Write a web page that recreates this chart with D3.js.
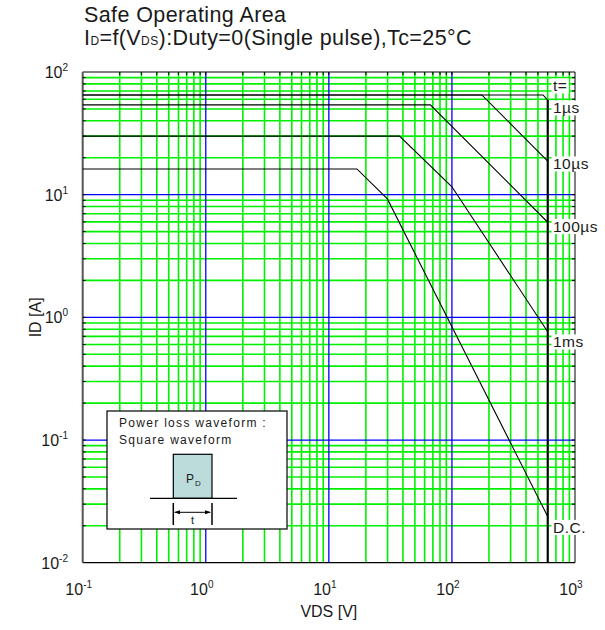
<!DOCTYPE html>
<html>
<head>
<meta charset="utf-8">
<script src="https://cdn.jsdelivr.net/npm/d3@7"></script>
<style>
  body { margin: 0; background: #fff; }
  text { font-family: "Liberation Sans", Arial, sans-serif; fill: #1a1a1a; }
</style>
</head>
<body>
<svg id="soa" width="605" height="630"></svg>
<script>
// values
const curveNames = ["1µs", "10µs", "100µs", "1ms", "D.C."];
const curveV = [
    [0.1, 550, 600, 600],
    [0.1, 175, 600],
    [0.1, 66.7, 600],
    [0.1, 37.5, 100, 600],
    [0.1, 16.9, 29.9, 600]
];
const curveI = [
    [65, 65, 59, 0.01],
    [65, 65, 18.8],
    [54, 54, 5.96],
    [30, 30, 11.6, 0.764],
    [16.2, 16.2, 9.23, 0.0238]
];
const labelI = [50.9, 17.8, 5.5, 0.63, 0.0194];   // where each name sits
const headerI = 77;                               // "t=" label
const vdss = 600;

const xTicks = [0.1, 1, 10, 100, 1000];
const xExp = ["-1", "0", "1", "2", "3"];
const yTicks = [0.01, 0.1, 1, 10, 100];
const yExp = ["-2", "-1", "0", "1", "2"];

const plot = { left: 82.7, right: 575, top: 72, bottom: 562.7 };

const svg = d3.select("#soa");

const x = d3.scaleLog().domain([0.1, 1000]).range([plot.left, plot.right]);
const y = d3.scaleLog().domain([0.01, 100]).range([plot.bottom, plot.top]);

const isDecade = v => Math.abs(Math.log10(v) - Math.round(Math.log10(v))) < 1e-6;

// titles
svg.append("text")
    .attr("x", 84).attr("y", 22)
    .style("font-size", "21.5px")
    .style("letter-spacing", "0.4px")
    .text("Safe Operating Area");

const sub = svg.append("text")
    .attr("x", 84).attr("y", 45)
    .style("font-size", "21.5px")
    .style("letter-spacing", "0.4px");
sub.append("tspan").text("I");
sub.append("tspan").style("font-size", "12px").text("D");
sub.append("tspan").text("=f(V");
sub.append("tspan").style("font-size", "12px").text("DS");
sub.append("tspan").text("):Duty=0(Single pulse),Tc=25°C");

// grid
const grid = svg.append("g");
const xGrid = x.ticks().filter(v => v > 0.1 && v < 1000);
const yGrid = y.ticks().filter(v => v > 0.01 && v < 100);

grid.selectAll(".vg")
    .data(xGrid.filter(v => !isDecade(v)))
    .enter().append("line")
    .attr("x1", d => x(d)).attr("x2", d => x(d))
    .attr("y1", plot.top).attr("y2", plot.bottom)
    .attr("stroke", "#00f000").attr("stroke-width", 1.6);

grid.selectAll(".hg")
    .data(yGrid.filter(v => !isDecade(v)))
    .enter().append("line")
    .attr("y1", d => y(d)).attr("y2", d => y(d))
    .attr("x1", plot.left).attr("x2", plot.right)
    .attr("stroke", "#00f000").attr("stroke-width", 1.6);

grid.selectAll(".vb")
    .data(xGrid.filter(isDecade))
    .enter().append("line")
    .attr("x1", d => x(d)).attr("x2", d => x(d))
    .attr("y1", plot.top).attr("y2", plot.bottom)
    .attr("stroke", "#0000ff").attr("stroke-width", 1.3);

grid.selectAll(".hb")
    .data(yGrid.filter(isDecade))
    .enter().append("line")
    .attr("y1", d => y(d)).attr("y2", d => y(d))
    .attr("x1", plot.left).attr("x2", plot.right)
    .attr("stroke", "#0000ff").attr("stroke-width", 1.3);

// frame
svg.append("line")
    .attr("x1", plot.left).attr("x2", plot.right)
    .attr("y1", plot.top).attr("y2", plot.top)
    .attr("stroke", "#000").attr("stroke-width", 1);
svg.append("line")
    .attr("x1", plot.right).attr("x2", plot.right)
    .attr("y1", plot.top).attr("y2", plot.bottom)
    .attr("stroke", "#000").attr("stroke-width", 1);
svg.append("line")
    .attr("x1", plot.left).attr("x2", plot.right)
    .attr("y1", plot.bottom).attr("y2", plot.bottom)
    .attr("stroke", "#000").attr("stroke-width", 1.2);
svg.append("line")
    .attr("x1", plot.left).attr("x2", plot.left)
    .attr("y1", plot.top).attr("y2", plot.bottom)
    .attr("stroke", "#555").attr("stroke-width", 2);

// small ticks on the frame
const ticks = svg.append("g").attr("stroke", "#000").attr("stroke-width", 1);
ticks.selectAll(".tl").data(yGrid).enter().append("line")
    .attr("x1", plot.left).attr("x2", plot.left + 3)
    .attr("y1", d => y(d)).attr("y2", d => y(d));
ticks.selectAll(".tr").data(yGrid).enter().append("line")
    .attr("x1", plot.right - 3).attr("x2", plot.right)
    .attr("y1", d => y(d)).attr("y2", d => y(d));
ticks.selectAll(".tt").data(xGrid).enter().append("line")
    .attr("x1", d => x(d)).attr("x2", d => x(d))
    .attr("y1", plot.top).attr("y2", plot.top + 3);

// curves
const line = d3.line().x(d => x(d[0])).y(d => y(d[1]));
svg.selectAll(".curve")
    .data(curveV.map((vs, i) => vs.map((v, j) => [v, curveI[i][j]])))
    .enter().append("path")
    .attr("class", "curve")
    .attr("d", line)
    .attr("fill", "none")
    .attr("stroke", "#000")
    .attr("stroke-width", 1.1);

// VDSS limit
svg.append("line")
    .attr("x1", x(vdss)).attr("x2", x(vdss))
    .attr("y1", y(curveI[0][2])).attr("y2", plot.bottom)
    .attr("stroke", "#000").attr("stroke-width", 2);

// curve labels with white backing
const labels = svg.append("g");
function boxedLabel(txt, iv) {
    const g = labels.append("g");
    const t = g.append("text")
        .attr("x", 553).attr("y", y(iv) + 5.5)
        .style("font-size", "15.5px")
        .style("letter-spacing", "0.5px")
        .text(txt);
    const b = t.node().getBBox();
    g.insert("rect", "text")
        .attr("x", b.x - 1.5).attr("y", b.y + 1)
        .attr("width", b.width + 3).attr("height", b.height - 2)
        .attr("fill", "#fff");
}
boxedLabel("t=", headerI);
curveNames.forEach((n, i) => boxedLabel(n, labelI[i]));

// tick labels
const xl = svg.selectAll(".xl").data(xTicks).enter().append("text")
    .attr("x", d => x(d) - 4).attr("y", 595)
    .attr("text-anchor", "middle")
    .style("font-size", "16px");
xl.append("tspan").text("10");
xl.append("tspan").attr("dy", -7).style("font-size", "10px").text((d, i) => xExp[i]);

const yl = svg.selectAll(".yl").data(yTicks).enter().append("text")
    .attr("x", 68).attr("y", d => y(d) + 6)
    .attr("text-anchor", "end")
    .style("font-size", "16px");
yl.append("tspan").text("10");
yl.append("tspan").attr("dy", -7).style("font-size", "10px").text((d, i) => yExp[i]);

// axis titles
svg.append("text")
    .attr("x", (plot.left + plot.right) / 2).attr("y", 617)
    .attr("text-anchor", "middle")
    .style("font-size", "16px")
    .text("VDS [V]");

svg.append("text")
    .attr("transform", `translate(41, ${(plot.top + plot.bottom) / 2}) rotate(-90)`)
    .attr("text-anchor", "middle")
    .style("font-size", "16px")
    .text("ID [A]");

// inset: power loss waveform
const inset = svg.append("g");
inset.append("rect")
    .attr("x", 107).attr("y", 411)
    .attr("width", 180).attr("height", 118)
    .attr("fill", "#fff").attr("stroke", "#000").attr("stroke-width", 1.2);
inset.append("text")
    .attr("x", 119).attr("y", 427)
    .style("font-size", "12px").style("letter-spacing", "1.3px")
    .text("Power loss waveform :");
inset.append("text")
    .attr("x", 119).attr("y", 444)
    .style("font-size", "12px").style("letter-spacing", "1.3px")
    .text("Square waveform");
inset.append("rect")
    .attr("x", 173.3).attr("y", 454.3)
    .attr("width", 38.7).attr("height", 44)
    .attr("fill", "#bcdcdc").attr("stroke", "#000").attr("stroke-width", 1.2);
inset.append("line")
    .attr("x1", 150).attr("x2", 237).attr("y1", 498.3).attr("y2", 498.3)
    .attr("stroke", "#000").attr("stroke-width", 1.2);
const pd = inset.append("text")
    .attr("x", 186).attr("y", 483)
    .style("font-size", "12px");
pd.append("tspan").text("P");
pd.append("tspan").attr("dy", 3).attr("dx", 1).style("font-size", "8px").text("D");

[173.3, 212].forEach(xv => {
    inset.append("line")
        .attr("x1", xv).attr("x2", xv).attr("y1", 503).attr("y2", 525)
        .attr("stroke", "#000").attr("stroke-width", 1.5);
});
inset.append("line")
    .attr("x1", 175).attr("x2", 210).attr("y1", 512.3).attr("y2", 512.3)
    .attr("stroke", "#000").attr("stroke-width", 1);
inset.append("path")
    .attr("d", "M174,512.3 L180,510.3 L180,514.3 Z M211,512.3 L205,510.3 L205,514.3 Z")
    .attr("fill", "#000");
inset.append("text")
    .attr("x", 192.6).attr("y", 524)
    .attr("text-anchor", "middle")
    .style("font-size", "11px")
    .text("t");
</script>
</body>
</html>
